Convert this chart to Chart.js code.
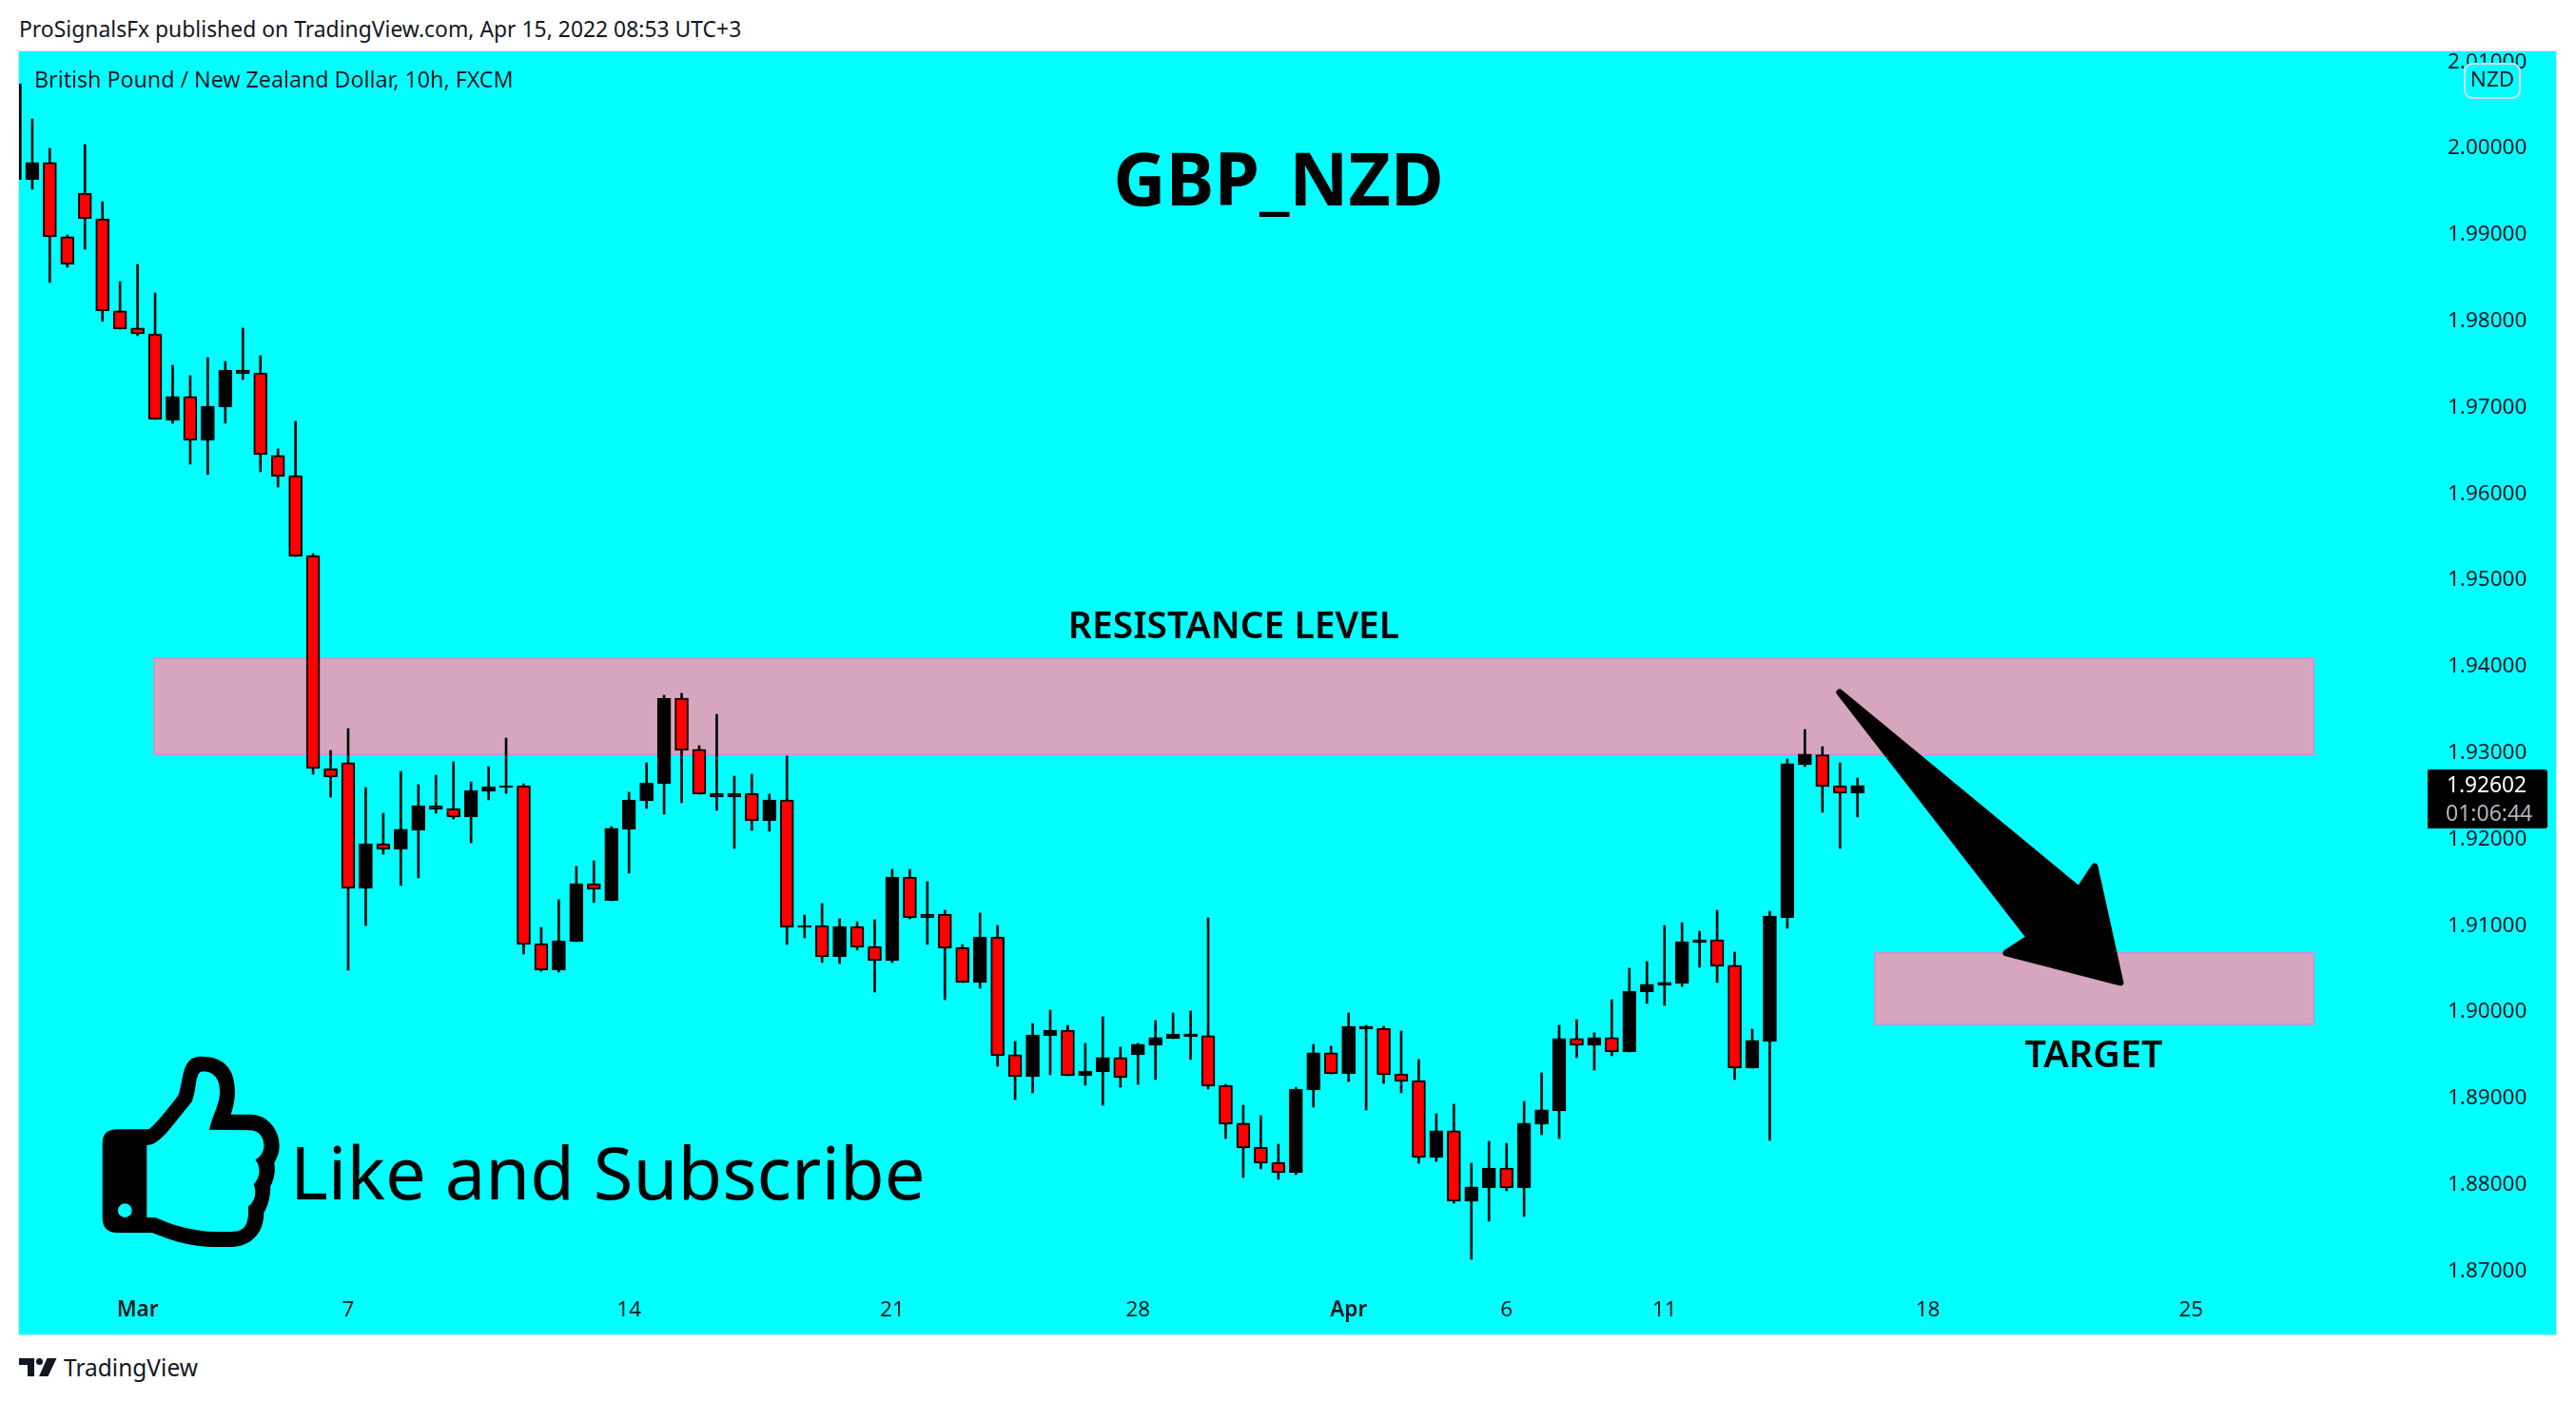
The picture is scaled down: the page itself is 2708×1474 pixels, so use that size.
<!DOCTYPE html>
<html>
<head>
<meta charset="utf-8">
<title>GBP_NZD</title>
<script src="https://cdn.jsdelivr.net/npm/chart.js@4"></script>
<style>
html, body { margin: 0; padding: 0; background: #fff; overflow: hidden; }
body { width: 2708px; height: 1474px; position: relative; font-family: "Noto Sans", sans-serif; color: #131722; }
#header { position: absolute; left: 20px; top: 15px; font-size: 22.9px; line-height: 32px; white-space: nowrap; }
#pane { position: absolute; left: 20px; top: 54px; width: 2667px; height: 1349px; background: #00ffff; outline: 1px solid #dce6ea; }
#pane canvas { display: block; }
#logo { position: absolute; left: 20px; top: 1428px; }
#brand { position: absolute; left: 67px; top: 1419px; font-size: 24.5px; line-height: 38px; white-space: nowrap; }
</style>
</head>
<body>
<div id="header">ProSignalsFx published on TradingView.com, Apr 15, 2022 08:53 UTC+3</div>
<div id="pane"><canvas id="chart" width="2667" height="1349"></canvas></div>
<svg id="logo" width="42" height="22" viewBox="0 0 42 22"><path fill="#131722" d="M0 0H16V19H9V7H0Z M29.5 0H39.5L30.5 19H21Z"/><circle cx="21.5" cy="3.5" r="3.5" fill="#131722"/></svg>
<div id="brand">TradingView</div>
<script>
// candle values, one entry per 10h bar
const opens = [1.99615,1.99615,1.99813,1.98954,1.99460,1.99163,1.98095,1.97897,1.97830,1.96828,
  1.97104,1.96597,1.96982,1.97368,1.97379,1.96421,1.96189,1.95264,1.92797,1.92864,
  1.91410,1.91927,1.91861,1.92082,1.92324,1.92335,1.92236,1.92533,1.92577,1.92599,
  1.90771,1.90463,1.90793,1.91465,1.91267,1.92093,1.92423,1.92621,1.93612,1.93018,
  1.92467,1.92467,1.92511,1.92192,1.92434,1.90958,1.90980,1.90617,1.90969,1.90738,
  1.90573,1.91542,1.91068,1.91112,1.90727,1.90320,1.90848,1.89483,1.89229,1.89703,
  1.89769,1.89240,1.89284,1.89450,1.89483,1.89593,1.89670,1.89692,1.89703,1.89130,
  1.88690,1.88414,1.88238,1.88117,1.89075,1.89505,1.89262,1.89780,1.89791,1.89262,
  1.89185,1.88293,1.88602,1.87787,1.87941,1.88172,1.87941,1.88679,1.88833,1.89670,
  1.89593,1.89681,1.89516,1.90209,1.90287,1.90308,1.90782,1.90815,1.90518,1.89328,
  1.89637,1.91073,1.92842,1.92957,1.92599,1.92511];
const highs = [2.00815,2.00319,1.99978,1.98976,2.00022,1.99361,1.98436,1.98634,1.98304,1.97467,
  1.97346,1.97555,1.97511,1.97897,1.97577,1.96498,1.96817,1.95286,1.93007,1.93260,
  1.92577,1.92280,1.92764,1.92610,1.92720,1.92875,1.92643,1.92820,1.93150,1.92621,
  1.90958,1.91278,1.91663,1.91729,1.92126,1.92522,1.92864,1.93645,1.93668,1.93062,
  1.93425,1.92709,1.92731,1.92500,1.92941,1.91101,1.91234,1.91057,1.91024,1.91046,
  1.91630,1.91630,1.91487,1.91157,1.90760,1.91124,1.90980,1.89637,1.89846,1.90000,
  1.89824,1.89615,1.89923,1.89571,1.89615,1.89879,1.89967,1.89989,1.91068,1.89141,
  1.88899,1.88778,1.88447,1.89108,1.89604,1.89582,1.89967,1.89824,1.89813,1.89758,
  1.89428,1.88800,1.88910,1.88227,1.88480,1.88458,1.88943,1.89273,1.89824,1.89890,
  1.89736,1.90121,1.90485,1.90562,1.90980,1.91013,1.90914,1.91157,1.90672,1.89780,
  1.91146,1.92908,1.93249,1.93051,1.92864,1.92687];
const lows = [1.99548,1.99504,1.98425,1.98601,1.98811,1.97974,1.97886,1.97808,1.96839,1.96795,
  1.96322,1.96201,1.96795,1.97302,1.96234,1.96057,1.95253,1.92731,1.92467,1.90463,
  1.90980,1.91806,1.91443,1.91531,1.92280,1.92214,1.91938,1.92434,1.92511,1.90650,
  1.90452,1.90441,1.90793,1.91245,1.91267,1.91586,1.92335,1.92269,1.92401,1.92500,
  1.92313,1.91872,1.92082,1.92071,1.90760,1.90837,1.90551,1.90540,1.90694,1.90209,
  1.90551,1.91057,1.90760,1.90121,1.90320,1.90253,1.89350,1.88965,1.89042,1.89251,
  1.89240,1.89130,1.88899,1.89108,1.89141,1.89196,1.89670,1.89428,1.89086,1.88513,
  1.88062,1.88161,1.88040,1.88095,1.88877,1.89262,1.89174,1.88844,1.89152,1.89042,
  1.88227,1.88249,1.87765,1.87115,1.87555,1.87908,1.87610,1.88558,1.88513,1.89450,
  1.89306,1.89472,1.89516,1.90077,1.90055,1.90275,1.90496,1.90320,1.89196,1.89328,
  1.88492,1.90947,1.92820,1.92291,1.91872,1.92236];
const closes = [2.00727,1.99813,1.98954,1.98634,1.99163,1.98095,1.97886,1.97830,1.96839,1.97104,
  1.96597,1.96993,1.97412,1.97412,1.96432,1.96178,1.95253,1.92797,1.92698,1.91410,
  1.91927,1.91861,1.92093,1.92368,1.92368,1.92236,1.92544,1.92588,1.92599,1.90760,
  1.90463,1.90804,1.91465,1.91399,1.92104,1.92434,1.92632,1.93612,1.93007,1.92500,
  1.92511,1.92511,1.92192,1.92434,1.90958,1.90980,1.90617,1.90969,1.90727,1.90573,
  1.91542,1.91068,1.91112,1.90716,1.90320,1.90848,1.89472,1.89229,1.89714,1.89769,
  1.89240,1.89295,1.89450,1.89218,1.89604,1.89681,1.89725,1.89725,1.89119,1.88679,
  1.88403,1.88227,1.88117,1.89086,1.89505,1.89262,1.89813,1.89813,1.89251,1.89174,
  1.88293,1.88602,1.87787,1.87952,1.88172,1.87941,1.88690,1.88844,1.89670,1.89593,
  1.89681,1.89516,1.90220,1.90298,1.90320,1.90793,1.90815,1.90507,1.89328,1.89648,
  1.91090,1.92853,1.92963,1.92588,1.92511,1.92602];

// axis ticks
const dateTickBars = [7, 19, 35, 50, 64, 76, 85, 94, 109, 124];
const dateTickLabels = ["Mar", "7", "14", "21", "28", "Apr", "6", "11", "18", "25"];
const monthLabels = ["Mar", "Apr"];
const priceTicks = [1.87, 1.88, 1.89, 1.90, 1.91, 1.92, 1.93, 1.94, 1.95, 1.96, 1.97, 1.98, 1.99, 2.00, 2.01];

// drawn zones and the arrow, in bar index and price
const zoneStarts = [7.94, 105.98];
const zoneEnds = [131.0, 131.0];
const zoneTops = [1.94078, 1.90664];
const zoneBottoms = [1.92959, 1.89835];
const arrowBars = [103.98, 117.63, 118.51, 119.97, 113.47, 114.81];
const arrowPrices = [1.93679, 1.91391, 1.91663, 1.90320, 1.90661, 1.90840];
const lastPrice = "1.92602";
const countdown = "01:06:44";

const FONT = '"Noto Sans", sans-serif';
const INK = "#131722";
const thumb = new Path2D(
  "M38 305Q38 262 85 262L185 262C215 235 250 190 277 155C295 110 285 35 345 32C420 30 455 70 456 140" +
  "C456 170 450 195 443 215L505 215C560 215 597 265 596 315C596 335 590 350 580 368C585 395 578 425 568 440" +
  "C568 475 560 505 547 525C548 590 505 632 445 633L400 633C310 633 250 610 195 588L85 588Q38 588 38 540Z" +
  "M178 312C205 312 225 290 250 262C280 225 300 200 320 175C335 140 330 85 350 80C385 75 408 100 408 140" +
  "C410 180 385 215 375 263L505 265C535 265 550 295 547 320C545 335 535 350 520 358C535 375 540 410 515 435" +
  "C525 460 520 490 498 505C500 560 490 585 445 585L400 585C320 585 250 560 205 540L178 540Z" +
  "M131 518A22 22 0 1 0 87 518A22 22 0 1 0 131 518Z");

function label(ctx, text, x, y, font, color) {
  ctx.font = font;
  ctx.fillStyle = color;
  ctx.textBaseline = "middle";
  ctx.fillText(text, x, y);
}

const zonesPlugin = {
  id: "zones",
  beforeDatasetsDraw(chart) {
    const { ctx, scales: { x, y } } = chart;
    ctx.save();
    zoneStarts.forEach((start, i) => {
      const left = x.getPixelForValue(start);
      const top = y.getPixelForValue(zoneTops[i]);
      const w = x.getPixelForValue(zoneEnds[i]) - left;
      const h = y.getPixelForValue(zoneBottoms[i]) - top;
      ctx.fillStyle = "#d6a6bf";
      ctx.fillRect(left, top, w, h);
      ctx.strokeStyle = "#c98fd6";
      ctx.lineWidth = 1.5;
      ctx.strokeRect(left, top, w, h);
    });
    ctx.restore();
  }
};

const overlayPlugin = {
  id: "overlay",
  afterDraw(chart) {
    const { ctx, scales: { x, y } } = chart;
    ctx.save();
    ctx.beginPath();
    arrowBars.forEach((b, i) => {
      const px = x.getPixelForValue(b), py = y.getPixelForValue(arrowPrices[i]);
      if (i === 0) ctx.moveTo(px, py); else ctx.lineTo(px, py);
    });
    ctx.closePath();
    ctx.fillStyle = "#000";
    ctx.strokeStyle = "#000";
    ctx.lineWidth = 7;
    ctx.lineJoin = "round";
    ctx.fill();
    ctx.stroke();

    // page coordinates from here on
    ctx.translate(-20, -54);
    ctx.textAlign = "left";
    label(ctx, "British Pound / New Zealand Dollar, 10h, FXCM", 36, 85, "23.2px " + FONT, INK);
    ctx.textAlign = "center";
    label(ctx, "GBP_NZD", 1344, 194, "bold 76.5px " + FONT, "#000");
    label(ctx, "RESISTANCE LEVEL", 1297, 660, "600 39px " + FONT, "#000");
    label(ctx, "TARGET", 2201, 1111, "600 39.5px " + FONT, "#000");
    ctx.textAlign = "left";
    label(ctx, "Like and Subscribe", 305, 1239, "76px " + FONT, "#000");

    ctx.save();
    ctx.translate(95, 1100);
    ctx.scale(1 / 3, 1 / 3);
    ctx.fillStyle = "#000";
    ctx.fill(thumb, "evenodd");
    ctx.restore();

    // currency badge
    ctx.beginPath();
    ctx.roundRect(2591, 67, 58, 36, 8);
    ctx.fillStyle = "#00ffff";
    ctx.fill();
    ctx.strokeStyle = "#d5dde3";
    ctx.lineWidth = 2;
    ctx.stroke();
    ctx.textAlign = "center";
    label(ctx, "NZD", 2620, 85, "22.5px " + FONT, INK);

    // last price tag
    ctx.beginPath();
    ctx.roundRect(2552, 809, 126, 62, [0, 3, 3, 0]);
    ctx.fillStyle = "#000";
    ctx.fill();
    ctx.textAlign = "left";
    label(ctx, lastPrice, 2572, 827, "22.7px " + FONT, "#fff");
    label(ctx, countdown, 2571, 856, "23px " + FONT, "#b2b5be");
    ctx.restore();
  }
};

new Chart(document.getElementById("chart"), {
  type: "bar",
  data: {
    datasets: [
      {
        label: "body",
        order: 1,
        grouped: false,
        barThickness: 14,
        borderWidth: 2,
        borderSkipped: false,
        borderColor: "#000",
        backgroundColor: closes.map((c, i) => (c < opens[i] ? "#ff0000" : "#000000")),
        data: opens.map((o, i) => ({ x: i, y: [o, closes[i]] }))
      },
      {
        label: "wick",
        order: 2,
        grouped: false,
        barThickness: 2,
        borderWidth: 0,
        backgroundColor: "#000",
        data: lows.map((l, i) => ({ x: i, y: [l, highs[i]] }))
      }
    ]
  },
  options: {
    responsive: false,
    animation: false,
    events: [],
    layout: { padding: 0 },
    plugins: { legend: { display: false }, tooltip: { enabled: false } },
    scales: {
      x: {
        type: "linear",
        offset: false,
        min: 0.2466,
        max: 138.62,
        grid: { display: false, drawTicks: false },
        border: { display: false },
        afterBuildTicks(s) { s.ticks = dateTickBars.map(value => ({ value })); },
        afterFit(s) { s.height = 46; s.paddingLeft = 0; s.paddingRight = 0; },
        ticks: {
          autoSkip: false,
          maxRotation: 0,
          padding: 7,
          color: INK,
          font: ctx => ({
            family: FONT,
            size: 22.5,
            weight: ctx.tick && monthLabels.includes(dateTickLabels[dateTickBars.indexOf(ctx.tick.value)]) ? "600" : "400"
          }),
          callback: value => dateTickLabels[dateTickBars.indexOf(value)]
        }
      },
      y: {
        type: "linear",
        position: "right",
        min: 1.86751,
        max: 2.01101,
        grid: { display: false, drawTicks: false },
        border: { display: false },
        afterBuildTicks(s) { s.ticks = priceTicks.map(value => ({ value })); },
        afterFit(s) { s.width = 114; s.paddingTop = 0; s.paddingBottom = 0; },
        ticks: {
          autoSkip: false,
          padding: 0,
          labelOffset: 2,
          color: INK,
          font: { family: FONT, size: 22.5 },
          callback: value => value.toFixed(5)
        }
      }
    }
  },
  plugins: [zonesPlugin, overlayPlugin]
});
</script>
</body>
</html>
